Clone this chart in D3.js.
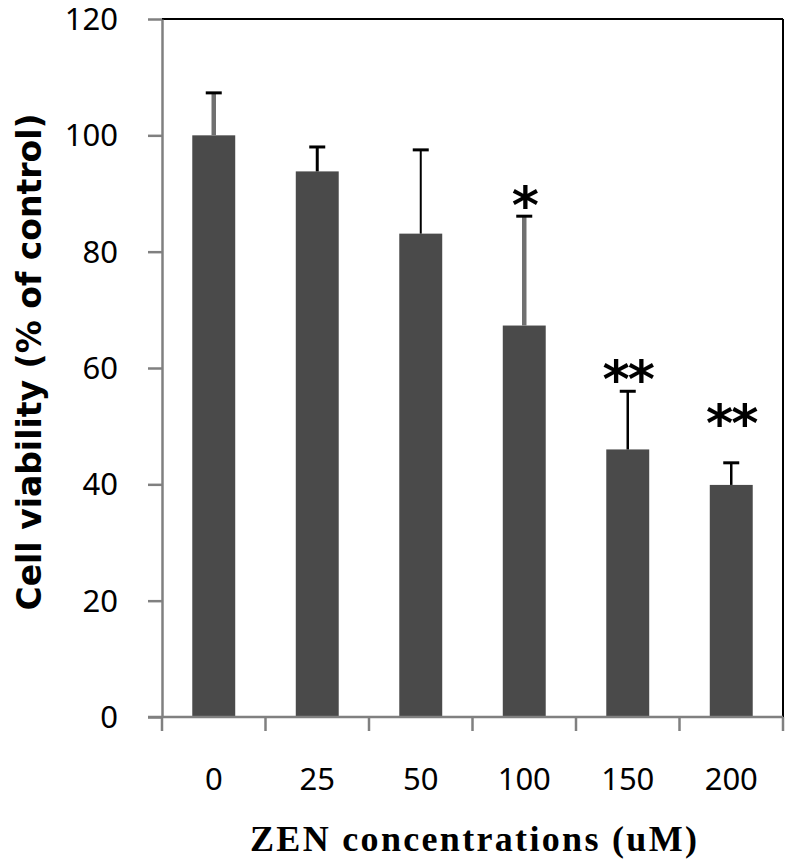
<!DOCTYPE html>
<html><head><meta charset="utf-8">
<script src="https://cdn.jsdelivr.net/npm/d3@7"></script>
<style>body{margin:0;background:#fff}</style>
</head><body>
<svg id="c" width="787" height="864"></svg>
<script>
const categories = ["0","25","50","100","150","200"];
const values = [100, 93.8, 83.1, 67.3, 46.0, 39.9];
const errors = [7.3, 4.2, 14.4, 18.8, 10.0, 3.8];
const signif = ["", "", "", "*", "**", "**"];
const signifLevel = [null, null, null, 89.5, 59.7, 52.1];
const yTicks = [0, 20, 40, 60, 80, 100, 120];
const errColor = ["#707070","#000","#000","#707070","#000","#000"];
const errWidth = [4.5, 3, 2, 4.5, 2.5, 2.5];

const svg = d3.select("#c");
const m = {l:162, r:783, t:19, b:717};
const x = d3.scaleBand().domain(categories).range([m.l, m.r]).padding(0);
const y = d3.scaleLinear().domain([0,120]).range([m.b, m.t]);
const bw = x.bandwidth()*0.415;

svg.append("line").attr("x1",m.l).attr("x2",m.r).attr("y1",m.t).attr("y2",m.t).attr("stroke","#000").attr("stroke-width",2);
svg.append("line").attr("x1",m.r).attr("x2",m.r).attr("y1",m.t).attr("y2",m.b).attr("stroke","#000").attr("stroke-width",2);

svg.selectAll("rect.bar").data(values).join("rect")
  .attr("x",(d,i)=>x(categories[i])+x.bandwidth()/2-bw/2)
  .attr("width",bw).attr("y",d=>y(d)).attr("height",d=>y(0)-y(d))
  .attr("fill","#4a4a4a");

const g = svg.append("g");
values.forEach((v,i)=>{
  const cx = x(categories[i])+x.bandwidth()/2;
  g.append("line").attr("x1",cx).attr("x2",cx).attr("y1",y(v)).attr("y2",y(v+errors[i]))
    .attr("stroke",errColor[i]).attr("stroke-width",errWidth[i]);
  g.append("line").attr("x1",cx-8).attr("x2",cx+8).attr("y1",y(v+errors[i])).attr("y2",y(v+errors[i]))
    .attr("stroke","#000").attr("stroke-width",3);
  if(signif[i]){
    g.append("text").attr("x",cx).attr("y",y(signifLevel[i])+27)
      .attr("text-anchor","middle").attr("font-family","DejaVu Sans").attr("font-weight","bold")
      .attr("font-size",52).attr("letter-spacing",-2).attr("fill","#000").text(signif[i]);
  }
});

const ya = svg.append("g").attr("transform",`translate(${m.l},0)`)
  .call(d3.axisLeft(y).tickValues(yTicks).tickSize(14).tickPadding(30).tickSizeOuter(0));
ya.select(".domain").attr("stroke","#808080").attr("stroke-width",2.5);
ya.selectAll(".tick line").attr("stroke","#808080").attr("stroke-width",2.5);
ya.selectAll(".tick text").attr("font-family","Noto Sans").attr("font-size",31).attr("fill","#000").attr("dy","0.34em");

const xa = svg.append("g").attr("transform",`translate(0,${m.b})`)
  .call(d3.axisBottom(x).tickSize(0).tickPadding(0).tickSizeOuter(0));
xa.select(".domain").attr("stroke","#808080").attr("stroke-width",2.5).attr("d",`M${m.l-14},0H${m.r}`);
xa.selectAll(".tick line").remove();
xa.selectAll(".tick text").attr("font-family","Noto Sans").attr("font-size",31).attr("fill","#000").attr("y",73).attr("dy",0);
const edges = categories.map(c=>x(c)).concat([m.r]);
xa.selectAll("line.sep").data(edges).join("line").attr("class","sep")
  .attr("x1",d=>d).attr("x2",d=>d).attr("y1",0).attr("y2",14)
  .attr("stroke","#808080").attr("stroke-width",2.5);

svg.append("text").attr("x",250).attr("y",851)
  .attr("font-family","Liberation Serif").attr("font-weight","bold").attr("font-size",36)
  .attr("textLength",447).attr("lengthAdjust","spacing")
  .text("ZEN concentrations (uM)");
svg.append("text").attr("transform","translate(41,362) rotate(-90)").attr("text-anchor","middle")
  .attr("font-family","DejaVu Sans").attr("font-weight","bold").attr("font-size",33)
  .text("Cell viability (% of control)");
</script>
</body></html>
